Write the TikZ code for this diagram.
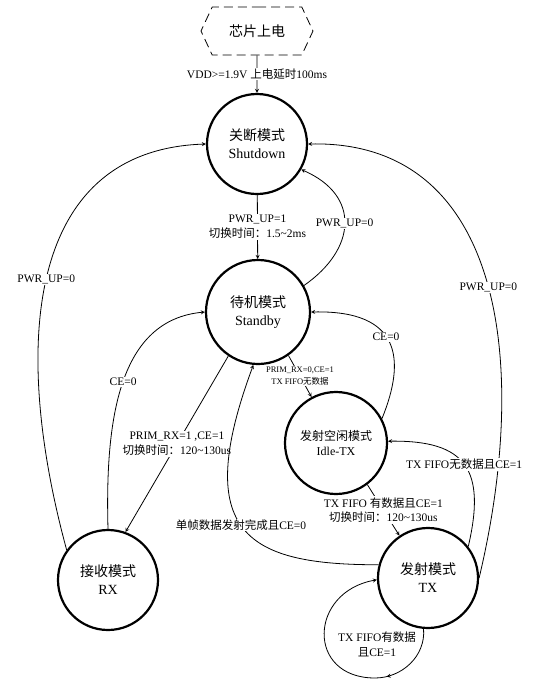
\documentclass[tikz,border=0pt]{standalone}
\usepackage{fontspec}
\setmainfont{Liberation Serif}
\newfontfamily\cjk{Noto Sans CJK SC}
\usetikzlibrary{shapes.symbols,decorations.markings}

\begin{document}
\begin{tikzpicture}[x=1pt, y=-1pt, >=stealth, line width=0.8pt,
  state/.style={draw, circle, line width=2.2pt, minimum size=100pt, inner sep=0pt, align=center, font=\fontsize{14}{18}\selectfont},
  lbl/.style={fill=white, inner sep=1pt, align=center, font=\fontsize{11.5}{15}\selectfont},
  slbl/.style={lbl, font=\fontsize{8.5}{12}\selectfont},
  midarrow/.style={postaction={decorate}, decoration={markings, mark=at position 0.28 with {\arrow{stealth}}}}]
  \useasboundingbox (0,0) rectangle (557,686);
  \node[draw, dash pattern=on 9pt off 5pt, signal, signal to=west and east, signal pointer angle=130, minimum width=112pt, minimum height=48pt, font=\fontsize{14}{18}\selectfont] (pwr) at (257,31) {\cjk 芯片上电};
  \node[state] (shut) at (257,144) {{\cjk 关断模式}\\Shutdown};
  \node[state, minimum size=104pt] (stby) at (258,312) {{\cjk 待机模式}\\Standby};
  \node[state, minimum size=102pt, font=\fontsize{12}{15}\selectfont] (idle) at (336,443) {{\cjk 发射空闲模式}\\Idle-TX};
  \node[state] (rx) at (108,580) {{\cjk 接收模式}\\RX};
  \node[state] (tx) at (428,578) {{\cjk 发射模式}\\TX};
  \draw[->] (pwr) -- (shut) node[lbl, midway] (l1) {VDD>=1.9V {\cjk 上电延时}100ms};
  \draw[->] (shut) -- (stby) node[lbl, midway] (l2) {PWR\_UP=1\\{\cjk 切换时间：}1.5\textasciitilde2ms};
  \draw[->] (stby.30) .. controls +(52,-36) and +(60,26) .. (shut.-30) node[lbl, pos=0.5] (l3) {PWR\_UP=0};
  \draw[->] (rx.144) .. controls +(-57,-210) and +(-177,6) .. (shut.180) node[lbl, pos=0.48] (l4) {PWR\_UP=0};
  \draw[->] (tx.0) .. controls +(52,-218) and +(193,-4) .. (shut.0) node[lbl, pos=0.48] (l5) {PWR\_UP=0};
  \draw[->] (rx.90) .. controls +(-3,-110) and +(-86,8) .. (stby.180) node[lbl, pos=0.5] (l6) {CE=0};
  \draw[->] (stby.236) -- (rx.70) node[lbl, midway] (l7) {PRIM\_RX=1 ,CE=1\\{\cjk 切换时间：}120\textasciitilde130us};
  \draw[->] (stby.305) -- (idle.118) node[slbl, midway] (l8) {PRIM\_RX=0,CE=1\\TX FIFO{\cjk 无数据}};
  \draw[->] (idle.28) .. controls +(24,-59) and +(90,-2) .. (stby.0) node[lbl, pos=0.55] (l9) {CE=0};
  \draw[->] (idle.307) -- (tx.124) node[lbl, midway] (l10) {TX FIFO {\cjk 有数据且}CE=1\\{\cjk 切换时间：}120\textasciitilde130us};
  \draw[->] (tx.38) .. controls +(18,-77) and +(78,-1) .. (idle.2) node[lbl, pos=0.5] (l11) {TX FIFO{\cjk 无数据且}CE=1};
  \draw[->] (tx.165) .. controls +(-130,0) and +(-63,170) .. (stby.265) node[lbl, pos=0.52] (l12) {{\cjk 单帧数据发射完成且}CE=0};
  \coordinate (loopb) at (375,678);
  \draw[->, midarrow] (tx.265) to[out=-85, in=0] (loopb) to[out=180, in=190, looseness=1.8] (tx.182);
  \node[lbl, fill=none] (l13) at (377,644) {TX FIFO{\cjk 有数据}\\{\cjk 且}CE=1};
\end{tikzpicture}
\end{document}
